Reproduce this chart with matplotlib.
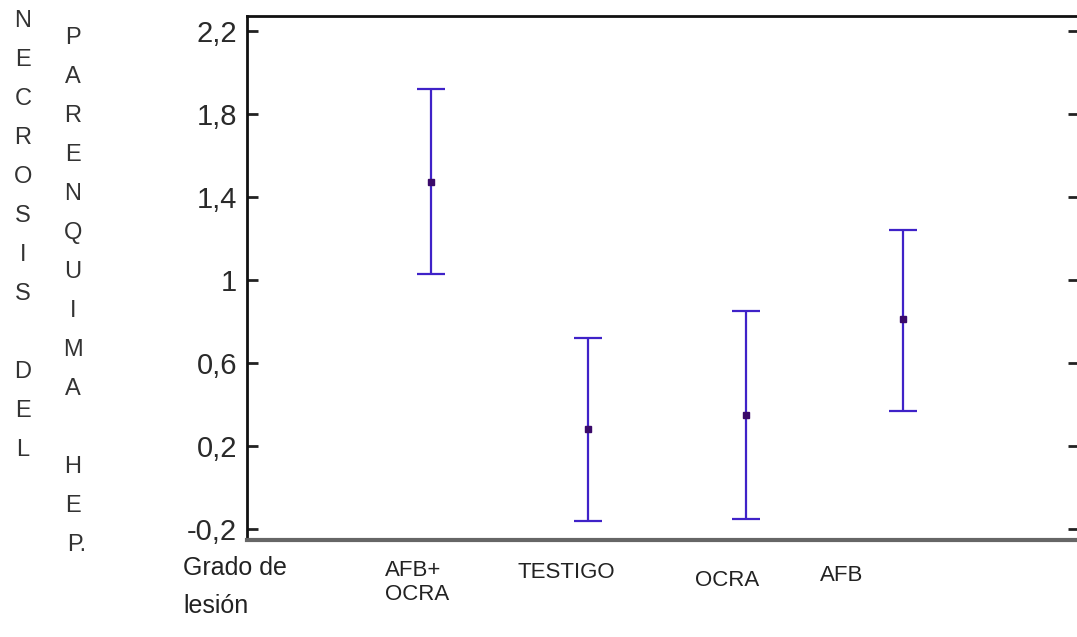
import numpy as np
import matplotlib
matplotlib.use('Agg')
import matplotlib.pyplot as plt
from matplotlib.ticker import FuncFormatter
import matplotlib.transforms as mtransforms

# data
groups = ['AFB+\nOCRA', 'TESTIGO', 'OCRA', 'AFB']
means = [1.47, 0.28, 0.35, 0.81]
lower = [1.03, -0.16, -0.15, 0.37]
upper = [1.92, 0.72, 0.85, 1.24]
yticks = [-0.2, 0.2, 0.6, 1.0, 1.4, 1.8, 2.2]
ylabel_1 = ['N', 'E', 'C', 'R', 'O', 'S', 'I', 'S', '', 'D', 'E', 'L']
ylabel_2 = ['P', 'A', 'R', 'E', 'N', 'Q', 'U', 'I', 'M', 'A', '', 'H', 'E', 'P.']
xlabel = 'Grado de\nlesión'

plt.rcParams['font.family'] = ['Liberation Sans', 'DejaVu Sans']

W, H = 1077, 637
fig = plt.figure(figsize=(W / 100, H / 100), dpi=100)
ax = fig.add_axes([247 / W, 1 - 540 / H, (1079 - 247) / W, (540 - 16) / H])

x = np.arange(1, len(groups) + 1)
means = np.array(means)
err = [means - np.array(lower), np.array(upper) - means]
ax.errorbar(x, means, yerr=err, fmt='none', ecolor='#3f22c8',
            elinewidth=1.6, capsize=10, capthick=1.6)
ax.plot(x, means, 's', color='#3a0a6a', markersize=4.5)

ax.set_ylim(-0.253, 2.272)
ax.set_xlim(1 - 184 / 157.3, 4 + 176 / 157.3)
ax.set_yticks(yticks)
ax.yaxis.set_major_formatter(FuncFormatter(lambda v, p: ('%g' % round(v, 1)).replace('.', ',')))
ax.set_xticks([])
ax.tick_params(axis='y', direction='in', length=8, width=2, labelsize=21,
               pad=7, right=True, colors='#222222', labelcolor='#2a2a2a')

for s in ['top', 'left', 'right']:
    ax.spines[s].set_linewidth(2)
    ax.spines[s].set_color('#111111')
ax.spines['bottom'].set_linewidth(3)
ax.spines['bottom'].set_color('#666666')

# category labels under the axis (shifted left like the original)
label_x = [0.71, 1.55, 2.68, 3.47]
label_y = [-0.038, -0.042, -0.057, -0.047]
trans = mtransforms.blended_transform_factory(ax.transData, ax.transAxes)
for lx, ly, g in zip(label_x, label_y, groups):
    ax.text(lx, ly, g, transform=trans, ha='left', va='top',
            fontsize=16, color='#222222', linespacing=1.2)

fig.text(183 / W, 1 - 556 / H, xlabel, ha='left', va='top', fontsize=18,
         color='#222222', linespacing=1.75)

# stacked vertical axis titles, one letter per row
for col_x, top, word in [(23, 21, ylabel_1), (73, 38, ylabel_2)]:
    for i, ch in enumerate(word):
        if ch == 'P.':
            fig.text((col_x - 6) / W, 1 - (top + 39 * i) / H, ch, ha='left',
                     va='center', fontsize=17, color='#333333')
        else:
            fig.text(col_x / W, 1 - (top + 39 * i) / H, ch, ha='center',
                     va='center', fontsize=17, color='#333333')

fig.savefig('out.png', dpi=100)
